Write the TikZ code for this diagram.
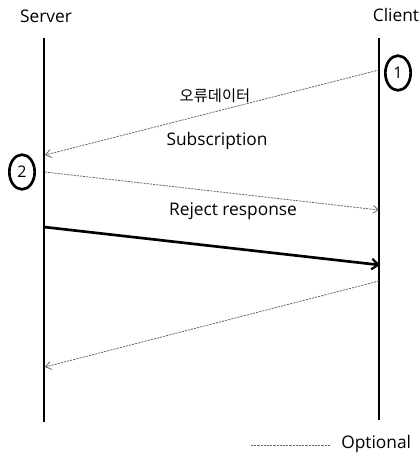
\documentclass[tikz,border=0pt]{standalone}
\usepackage{fontspec}
\setmainfont{Open Sans}
\newfontfamily\krfont{Noto Sans CJK KR}
\usetikzlibrary{arrows.meta,shapes.geometric}
\begin{document}
\begin{tikzpicture}[x=0.75pt,y=-0.75pt,
  lbl/.style={font=\fontsize{13}{15}\selectfont, inner sep=0pt},
  lifeline/.style={line width=1.4pt, black},
  optmsg/.style={draw=gray!80!black, line width=0.6pt, dash pattern=on 1.6pt off 0.8pt, -{Straight Barb[length=4pt,width=6pt,line width=0.6pt]}},
  mainmsg/.style={draw=black, line width=2pt, -{Straight Barb[length=5pt,width=8pt,line width=1.6pt]}},
  stepmark/.style={draw, line width=2pt, shape=ellipse, minimum width=19pt, minimum height=26pt, inner sep=0pt, font=\fontsize{12}{14}\selectfont}]
\useasboundingbox (0,0) rectangle (419,458);
% labels
\node[lbl] (srv) at (46,16) {Server};
\node[lbl] (cli) at (396,15) {Client};
% lifelines
\coordinate (s0) at (44,38); \coordinate (s1) at (44,422);
\coordinate (c0) at (379,38); \coordinate (c1) at (379,420);
\draw[lifeline] (s0) -- (s1);
\draw[lifeline] (c0) -- (c1);
% step marks
\node[stepmark] (m1) at (398,73) {1};
\node[stepmark] (m2) at (22,172) {2};
% messages
\coordinate (a1s) at (379,70); \coordinate (a1e) at (45,155);
\draw[optmsg] (a1s) -- (a1e);
\node[lbl, font=\krfont\fontsize{11.5}{13}\selectfont] (t1) at (215,96) {오류데이터};
\node[lbl] (t2) at (217,141) {Subscription};
\coordinate (a2s) at (45,172); \coordinate (a2e) at (379,210);
\draw[optmsg] (a2s) -- (a2e);
\node[lbl] (t3) at (233,211) {Reject response};
\coordinate (a3s) at (44,227); \coordinate (a3e) at (380,265);
\draw[mainmsg] (a3s) -- (a3e);
\coordinate (a4s) at (379,281); \coordinate (a4e) at (45,367);
\draw[optmsg] (a4s) -- (a4e);
% legend
\coordinate (l0) at (251,445); \coordinate (l1) at (330,445);
\draw[draw=gray!80!black, line width=0.6pt, dash pattern=on 1.6pt off 0.8pt] (l0) -- (l1);
\node[lbl, anchor=west] (opt) at (341,444) {Optional};
\end{tikzpicture}
\end{document}
